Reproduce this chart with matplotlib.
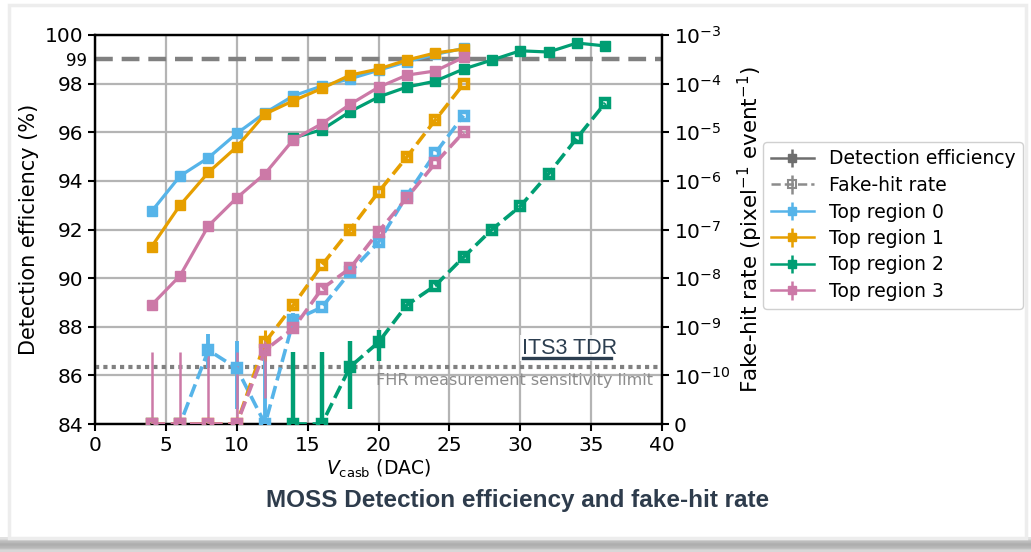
import numpy as np
import matplotlib
matplotlib.use('Agg')
import matplotlib.pyplot as plt
from matplotlib.patches import Rectangle
from matplotlib.lines import Line2D
from matplotlib.ticker import NullLocator

# V_casb scan points (DAC)
vcasb_a = [4, 6, 8, 10, 12, 14, 16, 18, 20, 22, 24, 26]   # regions 0, 1, 3
vcasb_b = [14, 16, 18, 20, 22, 24, 26, 28, 30, 32, 34, 36]  # region 2

region_names = ['Top region 0', 'Top region 1', 'Top region 2', 'Top region 3']
region_colors = ['#56B4E9', '#E69F00', '#009E73', '#CC79A7']

# detection efficiency (%)
eff_r0 = [92.75, 94.2, 94.95, 95.95, 96.8, 97.5, 97.9, 98.2, 98.55, 98.9, 99.2, 99.45]
eff_r1 = [91.3, 93.0, 94.35, 95.4, 96.75, 97.3, 97.8, 98.35, 98.6, 98.97, 99.26, 99.42]
eff_r2 = [95.77, 96.1, 96.85, 97.45, 97.86, 98.1, 98.6, 98.97, 99.35, 99.3, 99.67, 99.55]
eff_r3 = [88.9, 90.1, 92.15, 93.3, 94.3, 95.7, 96.35, 97.15, 97.85, 98.35, 98.52, 99.08]

# fake-hit rate (pixel^-1 event^-1), 0 = no fake hit seen
fhr_r0 = [0, 0, 3.3e-10, 1.4e-10, 0, 1.36e-9, 2.5e-9, 1.33e-8, 5.5e-8, 5e-7, 3.7e-6, 2.2e-5]
fhr_r1 = [0, 0, 0, 0, 4.8e-10, 2.8e-9, 1.84e-8, 1e-7, 5.9e-7, 3.1e-6, 1.78e-5, 9.8e-5]
fhr_r2 = [0, 0, 1.5e-10, 4.8e-10, 2.8e-9, 7e-9, 2.7e-8, 1e-7, 3e-7, 1.4e-6, 7.6e-6, 4e-5]
fhr_r3 = [0, 0, 0, 0, 3.3e-10, 9.3e-10, 6e-9, 1.6e-8, 9e-8, 4.5e-7, 2.3e-6, 1e-5]

# visible error bars on the fake-hit rate (lower, upper); None = not visible
fhr_lo_r0 = [None, None, 1.4e-10, 2e-11, None, 7.1e-10, None, None, None, None, None, None]
fhr_hi_r0 = [None, None, 7.1e-10, 5e-10, 3e-10, 1.9e-9, None, None, None, None, None, None]
fhr_lo_r1 = [None, None, None, None, 2e-10, None, None, None, None, None, None, None]
fhr_hi_r1 = [None, None, None, None, 8.4e-10, None, None, None, None, None, None, None]
fhr_lo_r2 = [None, None, 2e-11, 2e-10, None, None, None, None, None, None, None, None]
fhr_hi_r2 = [3e-10, 3e-10, 5e-10, 8.4e-10, None, None, None, None, None, None, None, None]
fhr_lo_r3 = [None, None, None, None, 3.5e-11, None, None, None, None, None, None, None]
fhr_hi_r3 = [3e-10, 3e-10, 3e-10, 3e-10, 6.3e-10, None, None, None, None, None, None, None]

eff_target = 99
fhr_limit = 1.5e-10
fhr_floor = 1e-11

fhr_ticks = [1e-11, 1e-10, 1e-9, 1e-8, 1e-7, 1e-6, 1e-5, 1e-4, 1e-3]
fhr_ticklabels = ['0'] + [r'$10^{-%d}$' % k for k in range(10, 2, -1)]

regions = [
    (vcasb_a, eff_r0, fhr_r0, fhr_lo_r0, fhr_hi_r0),
    (vcasb_a, eff_r1, fhr_r1, fhr_lo_r1, fhr_hi_r1),
    (vcasb_b, eff_r2, fhr_r2, fhr_lo_r2, fhr_hi_r2),
    (vcasb_a, eff_r3, fhr_r3, fhr_lo_r3, fhr_hi_r3),
]
elw = [2.8, 2.2, 3.2, 1.8]

fig = plt.figure(figsize=(10.31, 5.52), dpi=100)
fig.patch.set_facecolor('white')

# card frame and bottom shadow
fig.patches.append(Rectangle((9 / 1031, 14 / 552), 1017 / 1031, 533 / 552,
                             transform=fig.transFigure, fill=False,
                             edgecolor='#ededed', lw=2.5, zorder=0))
sh = fig.add_axes([0, 0, 1, 15 / 552])
grad = np.array([[0.88], [0.74], [0.68], [0.72], [0.84]])
sh.imshow(grad, aspect='auto', cmap='gray', vmin=0, vmax=1, extent=[0, 1, 0, 1])
sh.axis('off')

ax = fig.add_axes([95 / 1031, 1 - 424 / 552, 567 / 1031, 389 / 552])
ax2 = ax.twinx()

for i, (x, eff, fhr, lo, hi) in enumerate(regions):
    c = region_colors[i]
    ax.plot(x, eff, '-s', color=c, lw=2.3, ms=7.5, zorder=3)

    y = np.array([v if v > 0 else fhr_floor for v in fhr])
    err_lo = np.array([0 if l is None else max(v - l, 0) for v, l in zip(y, lo)])
    err_hi = np.array([0 if h is None else h - v for v, h in zip(y, hi)])
    ax2.errorbar(x, y, yerr=[err_lo, err_hi], fmt='--s', color=c, lw=2.6,
                 ms=6, mfc='none', mew=3.2, elinewidth=elw[i], capsize=0,
                 zorder=3)

ax.axhline(eff_target, color='#808080', lw=3.2, ls=(0, (4, 2)), zorder=2)
ax2.axhline(fhr_limit, color='#808080', lw=3, ls=(0, (1, 1)), zorder=2)

ax.set_xlim(0, 40)
ax.set_ylim(84, 100)
ax.set_xticks(range(0, 41, 5))
ax.set_yticks(range(84, 101, 2))
ax.set_yticks([99], minor=True)
ax.set_yticklabels(['99'], minor=True, fontsize=12)
ax.tick_params(axis='y', which='minor', length=0, pad=6)
ax.tick_params(which='major', labelsize=14.5, width=1.5, length=5)
ax.grid(True, color='#b4b4b4', lw=1.6)
ax.set_axisbelow(True)
for s in ax.spines.values():
    s.set_linewidth(1.6)
ax.set_xlabel(r'$V_{\mathrm{casb}}$ (DAC)', fontsize=13.5, labelpad=2)
ax.set_ylabel('Detection efficiency (%)', fontsize=15, labelpad=4)

ax2.set_yscale('log')
ax2.set_ylim(1e-11, 1e-3)
ax2.set_yticks(fhr_ticks)
ax2.set_yticklabels(fhr_ticklabels)
ax2.yaxis.set_minor_locator(NullLocator())
ax2.tick_params(labelsize=14.5, width=1.5, length=5)
for s in ax2.spines.values():
    s.set_linewidth(1.6)
ax2.set_ylabel(r'Fake-hit rate (pixel$^{-1}$ event$^{-1}$)', fontsize=15.5, labelpad=4)

ax2.text(0.985, 0.113, 'FHR measurement sensitivity limit', transform=ax2.transAxes,
         ha='right', va='center', fontsize=11.5, color='#8c8c8c')

# ITS3 TDR label
fig.text(570 / 1031, 1 - 348 / 552, 'ITS3 TDR', ha='center', va='center',
         fontsize=15.5, family='Liberation Sans', color='#2c3e50',
         bbox=dict(facecolor='white', edgecolor='none', pad=2, alpha=0.8))
fig.lines.append(Line2D([523 / 1031, 611 / 1031], [1 - 358 / 552, 1 - 358 / 552],
                        transform=fig.transFigure, color='#2c3e50', lw=2.4, zorder=6))

# legend
handles = []
h = ax.errorbar([-10], [50], yerr=1, fmt='-s', color='#6e6e6e', lw=1.8, ms=6)
handles.append(h)
h = ax.errorbar([-10], [50], yerr=1, fmt='--s', color='#8c8c8c', lw=1.8, ms=6,
                mfc='none', mew=1.5)
handles.append(h)
for c in region_colors:
    h = ax.errorbar([-10], [50], yerr=1, fmt='-s', color=c, lw=1.8, ms=6)
    handles.append(h)
labels = ['Detection efficiency', 'Fake-hit rate'] + region_names
fig.legend(handles, labels, loc='upper left',
           bbox_to_anchor=(763 / 1031, 1 - 142 / 552), bbox_transform=fig.transFigure,
           borderaxespad=0, fontsize=13.5, handlelength=2.3, labelspacing=0.4,
           framealpha=1, edgecolor='#d0d0d0')

fig.text(518 / 1031, 1 - 501 / 552, 'MOSS Detection efficiency and fake-hit rate',
         ha='center', va='center', fontsize=17.5, fontweight='bold',
         family='Liberation Sans', color='#2e3c4c')

fig.savefig('out.png', dpi=100)
